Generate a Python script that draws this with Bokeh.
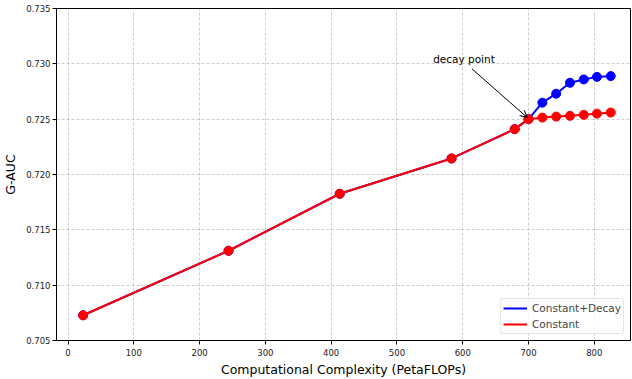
from bokeh.plotting import figure
from bokeh.models import (ColumnDataSource, FixedTicker, NumeralTickFormatter, Arrow,
                          OpenHead, Label, Legend, LegendItem, Range1d)
from bokeh.embed import file_html
from bokeh.resources import INLINE

# data
base_x = [23, 244, 413, 583, 679, 700]
base_y = [0.70728, 0.71311, 0.71826, 0.72145, 0.72410, 0.72500]
tail_x = [721, 742, 763, 784, 804, 825]
decay_y = [0.72649, 0.72730, 0.72829, 0.72859, 0.72882, 0.72889]
const_y = [0.72514, 0.72523, 0.72530, 0.72539, 0.72550, 0.72560]
x_ticks = [0, 100, 200, 300, 400, 500, 600, 700, 800]
y_ticks = [0.705, 0.710, 0.715, 0.720, 0.725, 0.730, 0.735]

blue_x = base_x + tail_x
blue_y = base_y + decay_y
red_x = base_x + tail_x
red_y = base_y + const_y

FONT = "DejaVu Sans"

p = figure(width=632, height=379, output_backend="svg", toolbar_location=None,
           x_range=Range1d(-17.5, 855), y_range=Range1d(0.705, 0.735))
p.min_border_left = 56
p.min_border_right = 2
p.min_border_top = 8
p.min_border_bottom = 37
p.background_fill_color = "white"
p.border_fill_color = "white"
p.outline_line_color = "black"
p.outline_line_width = 1

for ax in (p.xaxis[0], p.yaxis[0]):
    ax.major_label_text_font = FONT
    ax.major_label_text_font_size = "8.5px"
    ax.major_label_text_color = "#222222"
    ax.axis_label_text_font = FONT
    ax.axis_label_text_font_size = "12.5px"
    ax.axis_label_text_font_style = "normal"
    ax.axis_label_text_color = "black"
    ax.minor_tick_line_color = None
    ax.major_tick_in = 0
    ax.major_tick_out = 4
    ax.major_tick_line_color = "black"
    ax.axis_line_color = "black"

p.xaxis.ticker = FixedTicker(ticks=x_ticks)
p.yaxis.ticker = FixedTicker(ticks=y_ticks)
p.yaxis.formatter = NumeralTickFormatter(format="0.000")
p.xaxis.axis_label = "Computational Complexity (PetaFLOPs)"
p.yaxis.axis_label = "G-AUC"
p.xaxis.axis_label_standoff = 3
p.yaxis.axis_label_standoff = 5
p.xaxis.major_label_standoff = 4
p.yaxis.major_label_standoff = 2

p.grid.grid_line_color = "#b0b0b0"
p.grid.grid_line_dash = "3 2"
p.grid.grid_line_alpha = 0.8
p.grid.grid_line_width = 0.8

bsrc = ColumnDataSource(dict(x=blue_x, y=blue_y))
rsrc = ColumnDataSource(dict(x=red_x, y=red_y))

bl = p.line("x", "y", source=bsrc, line_color="blue", line_width=2)
p.scatter("x", "y", source=bsrc, size=9, color="blue")
rl = p.line("x", "y", source=rsrc, line_color="red", line_width=2)
p.scatter("x", "y", source=rsrc, size=9, color="red")

legend = Legend(items=[LegendItem(label="Constant+Decay", renderers=[bl]),
                       LegendItem(label="Constant", renderers=[rl])],
                location="bottom_right")
legend.label_text_font = FONT
legend.label_text_font_size = "10.5px"
legend.label_height = 14
legend.glyph_height = 14
legend.glyph_width = 24
legend.spacing = 2
legend.padding = 2
legend.margin = 6
legend.border_line_color = "#cccccc"
legend.border_radius = 3
legend.background_fill_alpha = 0.8
p.add_layout(legend)

p.add_layout(Arrow(end=OpenHead(size=7, line_color="black", line_width=1),
                   x_start=614, y_start=0.72955, x_end=698, y_end=0.72515,
                   line_color="black", line_width=1))
p.add_layout(Label(x=555, y=0.7299, text="decay point", text_font=FONT,
                   text_font_size="10.5px", text_color="black"))

with open("out.html", "w") as f:
    f.write(file_html(p, INLINE))
